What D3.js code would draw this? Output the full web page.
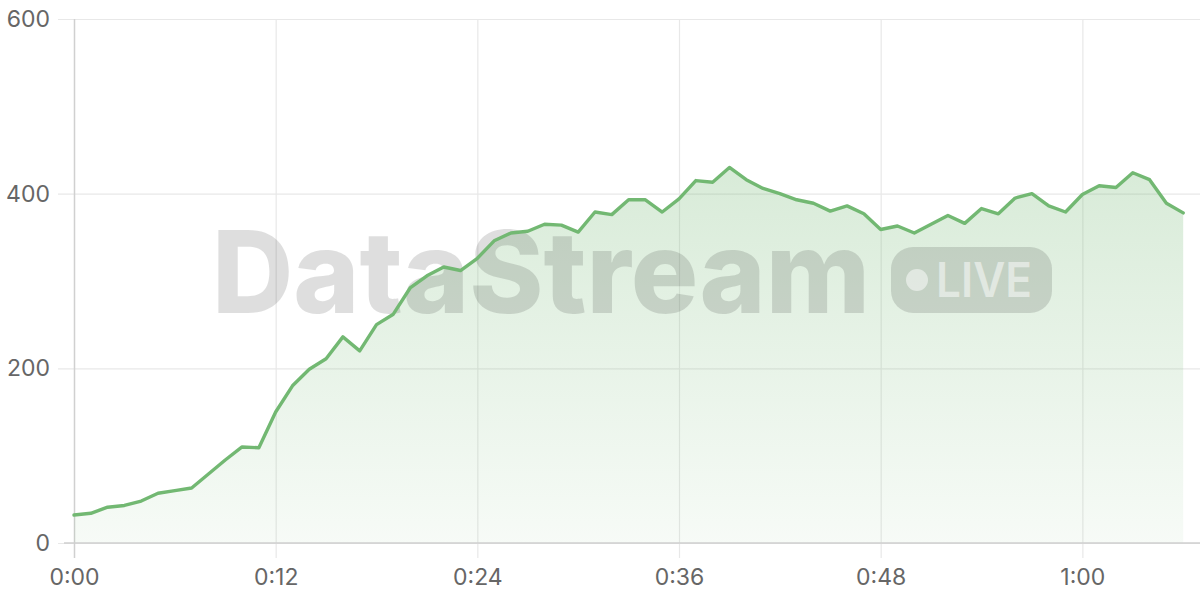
<!DOCTYPE html>
<html>
<head>
<meta charset="utf-8">
<script src="https://cdn.jsdelivr.net/npm/d3@7"></script>
<style>
  html, body { margin: 0; padding: 0; background: #fff; }
  svg { display: block; }
  .tick text { font-family: Inter, "Noto Sans", sans-serif; }
</style>
</head>
<body>
<div id="chart"></div>
<script>
// ---- data ----
const values = [32, 34, 41, 43, 48, 57, 60, 63, 79, 95,
  110, 109, 150, 180, 199, 211, 236, 220, 250, 262,
  292, 306, 316, 312, 326, 346, 355, 357, 365, 364,
  356, 379, 376, 393, 393, 379, 394, 415, 413, 430,
  416, 406, 400, 393, 389, 380, 386, 377, 359, 363,
  355, 365, 375, 366, 383, 377, 395, 400, 386, 379,
  399, 409, 407, 424, 416, 389, 378];
const xTickValues = [0, 12, 24, 36, 48, 60];
const xTickLabels = ["0:00", "0:12", "0:24", "0:36", "0:48", "1:00"];
const yTickValues = [0, 200, 400, 600];
const watermarkText = "DataStream";
const badgeText = "LIVE";

// ---- layout ----
const W = 1200, H = 600;
const m = { left: 74, right: 0, top: 19, bottom: 57 };

const svg = d3.select("#chart").append("svg").attr("width", W).attr("height", H);

const x = d3.scaleLinear().domain([0, 67]).range([m.left, W - m.right]);
const y = d3.scaleLinear().domain([0, 600]).range([H - m.bottom, m.top]);

const defs = svg.append("defs");
const grad = defs.append("linearGradient")
  .attr("id", "areaGrad").attr("gradientUnits", "userSpaceOnUse")
  .attr("x1", 0).attr("x2", 0).attr("y1", y(d3.max(values))).attr("y2", y(0));
grad.append("stop").attr("offset", "0%").attr("stop-color", "#74b874").attr("stop-opacity", 0.28);
grad.append("stop").attr("offset", "100%").attr("stop-color", "#74b874").attr("stop-opacity", 0.06);

// horizontal grid + y axis labels
const yAxis = d3.axisLeft(y).tickValues(yTickValues).tickSize(-(W - m.left + 16)).tickPadding(8);
const gy = svg.append("g").attr("transform", `translate(${m.left - 16},0)`).call(yAxis);
gy.select(".domain").remove();
gy.selectAll(".tick line").attr("stroke", "#e8e8e8").attr("stroke-width", 1.2);
gy.selectAll(".tick text").attr("fill", "#666").attr("font-size", 23).attr("x", -8);

// vertical grid + x labels
const xAxis = d3.axisBottom(x).tickValues(xTickValues).tickFormat((d, i) => xTickLabels[i])
  .tickSize(-(y(0) - m.top) - 15).tickPadding(20);
const gx = svg.append("g").attr("transform", `translate(0,${y(0) + 15})`).call(xAxis);
gx.select(".domain").remove();
gx.selectAll(".tick line").attr("stroke", "#e8e8e8").attr("stroke-width", 1.2);
gx.selectAll(".tick text").attr("fill", "#666").attr("font-size", 23).attr("dy", "0.3em");
gx.selectAll(".tick").filter(d => d === 0).select("line").attr("stroke", "#d0d0d0").attr("stroke-width", 1.5);

// area
const area = d3.area().x((d, i) => x(i)).y0(y(0)).y1(d => y(d));
svg.append("path").datum(values).attr("d", area).attr("fill", "url(#areaGrad)");

// x axis baseline
svg.append("line").attr("x1", m.left - 10).attr("x2", W).attr("y1", y(0)).attr("y2", y(0))
  .attr("stroke", "#cfcfcf").attr("stroke-width", 1.6);

// watermark
const wm = svg.append("g").attr("pointer-events", "none");
wm.append("text").attr("x", 212).attr("y", 313)
  .attr("font-family", "Inter, 'Noto Sans', sans-serif").attr("font-weight", 800)
  .attr("font-size", 114).attr("textLength", 658).attr("lengthAdjust", "spacingAndGlyphs")
  .attr("fill", "rgba(0,0,0,0.13)").text(watermarkText);
wm.append("rect").attr("x", 891).attr("y", 247).attr("width", 161).attr("height", 66).attr("rx", 22)
  .attr("fill", "rgba(0,0,0,0.13)");
wm.append("circle").attr("cx", 917).attr("cy", 280).attr("r", 11).attr("fill", "rgba(255,255,255,0.5)");
wm.append("text").attr("x", 936).attr("y", 297)
  .attr("font-family", "Inter, 'Noto Sans', sans-serif").attr("font-weight", 600)
  .attr("font-size", 48).attr("textLength", 96).attr("lengthAdjust", "spacingAndGlyphs")
  .attr("fill", "rgba(255,255,255,0.5)").text(badgeText);

// line
const line = d3.line().x((d, i) => x(i)).y(d => y(d));
svg.append("path").datum(values).attr("d", line)
  .attr("fill", "none").attr("stroke", "#72b872").attr("stroke-width", 3.4)
  .attr("stroke-linejoin", "round").attr("stroke-linecap", "round");
</script>
</body>
</html>
